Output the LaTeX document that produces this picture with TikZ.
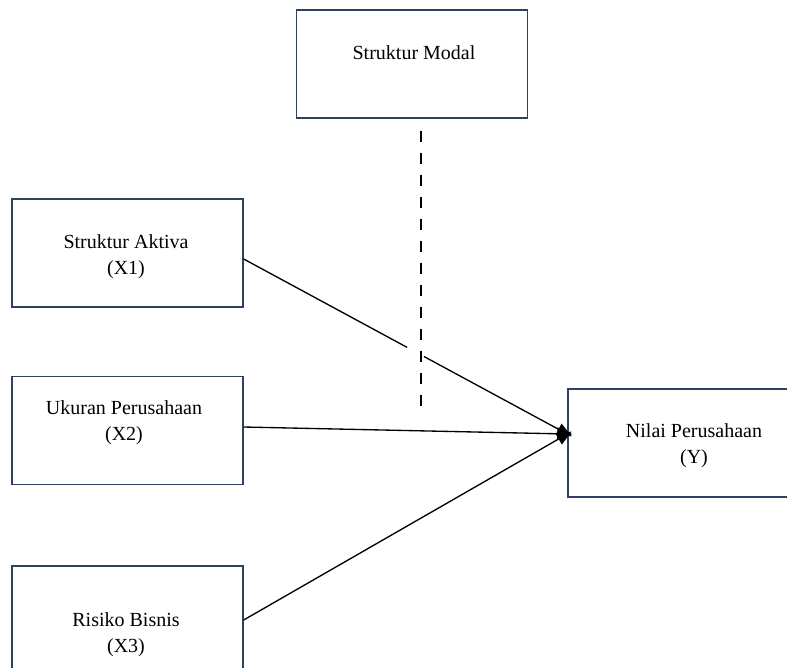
\documentclass[tikz,border=0pt]{standalone}
\usepackage{fontspec}
\setmainfont{Liberation Serif}
\usetikzlibrary{arrows.meta, shapes, positioning, calc}
\definecolor{boxline}{RGB}{47,64,99}

\tikzset{
  var/.style={rectangle, draw=boxline, line width=0.8pt, minimum width=138.6pt, minimum height=64.8pt},
  lbl/.style={align=center, font=\fontsize{12}{15.5}\selectfont, inner sep=0pt},
  link/.style={draw, line width=0.8pt, -{Triangle[length=9pt,width=7.5pt]}, shorten >=-3pt},
  moderasi/.style={draw, line width=0.8pt, dash pattern=on 6.6pt off 6.6pt}
}

\begin{document}
\begin{tikzpicture}[x=0.6pt, y=-0.6pt]
\useasboundingbox (0,0) rectangle (787,667);
% kotak variabel
\node[var] (sm) at (412,64) {};
\node[var] (x1) at (127.5,253) {};
\node[var] (x2) at (127.5,430.5) {};
\node[var] (x3) at (127.5,620) {};
\node[var, minimum width=160pt] (y) at (701.3,443) {};
% teks
\node[lbl] (smt) at (414,53) {Struktur Modal};
\node[lbl] (x1t) at (126,257) {Struktur Aktiva\\(X1)};
\node[lbl] (x2t) at (124,422.5) {Ukuran Perusahaan\\(X2)};
\node[lbl] (x3t) at (126,635) {Risiko Bisnis\\(X3)};
\node[lbl] (yt) at (694,445.5) {Nilai Perusahaan\\(Y)};
% titik ujung
\coordinate (a1) at ([yshift=-3.6pt]x1.east);
\coordinate (a2) at ([yshift=2.1pt]x2.east);
\coordinate (a3) at (x3.east);
\coordinate (tip) at ([yshift=5.4pt]y.west);
\coordinate (g1) at ($(a1)!0.505!(tip)$);
\coordinate (g2) at ($(a1)!0.557!(tip)$);
\coordinate (m1) at (421,131);
\coordinate (m2) at (421,411);
% garis moderasi
\draw[moderasi] (m1) -- (m2);
% panah
\draw[line width=0.8pt] (a1) -- (g1);
\draw[link] (g2) -- (tip);
\draw[link] (a2) -- (tip);
\draw[link] (a3) -- (tip);
\end{tikzpicture}
\end{document}
